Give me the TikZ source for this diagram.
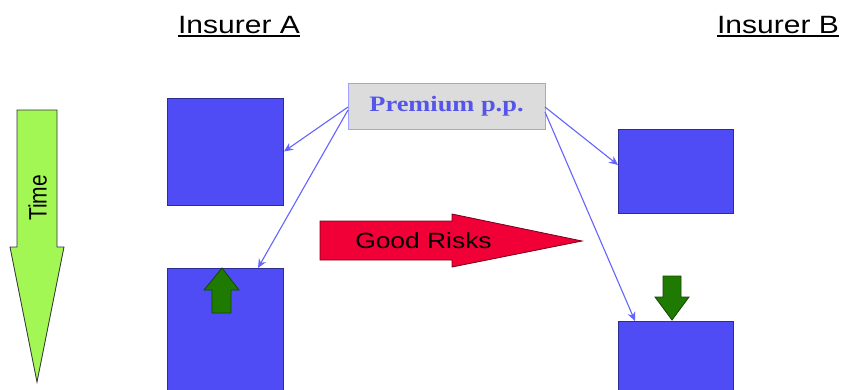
\documentclass[tikz,border=0pt]{standalone}
\usepackage{fontspec}
\setmainfont{Liberation Sans}
\newfontfamily\premfont{Liberation Serif}
\usetikzlibrary{arrows.meta,calc}
\definecolor{boxblue}{RGB}{79,76,245}
\definecolor{boxedge}{RGB}{45,45,150}
\definecolor{premfill}{RGB}{220,220,220}
\definecolor{premedge}{RGB}{160,160,255}
\definecolor{premtext}{RGB}{85,85,235}
\definecolor{connblue}{RGB}{100,100,255}
\definecolor{timegreen}{RGB}{163,247,85}
\definecolor{riskred}{RGB}{240,0,55}
\definecolor{moveg}{RGB}{30,122,0}
\begin{document}
\begin{tikzpicture}[x=1pt,y=-1pt,
  heading/.style={anchor=base,inner sep=0pt,font=\fontsize{25}{30}\selectfont},
  bluebox/.style={draw=boxedge,line width=0.8pt,fill=boxblue,inner sep=0pt,outer sep=0pt},
  premiumbox/.style={draw=premedge,line width=1pt,fill=premfill,inner sep=0pt,outer sep=0pt,
    minimum width=197pt,minimum height=46pt,text=premtext,
    font=\premfont\bfseries\fontsize{22}{26}\selectfont},
  conn/.style={draw=connblue,line width=1.1pt,-{Stealth[length=9pt,width=8pt,inset=3pt]}},
  shapeline/.style={line width=0.8pt,line join=miter}]
\useasboundingbox (0,0) rectangle (841,389);
\fill[white] (0,0) rectangle (841,389);

% column headings
\node[heading] (insA) at (239,33) {\scalebox{1.2}[1]{Insurer A}};
\node[heading] (insB) at (778,33) {\scalebox{1.2}[1]{Insurer B}};
\draw[line width=1.2pt] ($(insA.base west)+(0,3)$) -- ($(insA.base east)+(0,3)$);
\draw[line width=1.2pt] ($(insB.base west)+(0,3)$) -- ($(insB.base east)+(0,3)$);

% time axis
\draw[shapeline,fill=timegreen,draw=black!80] (17,110) -- (57,110) -- (57,247) -- (64,247)
  -- (37,382) -- (10,247) -- (17,247) -- cycle;
\node[rotate=90,inner sep=0pt,font=\fontsize{21}{25}\selectfont] (time) at (37.5,198) {\scalebox{1}[1.2]{Time}};

% insurer portfolios
\node[bluebox,minimum width=116pt,minimum height=107pt] (a1) at (225,151.5) {};
\node[bluebox,minimum width=116pt,minimum height=124pt] (a2) at (225,330) {};
\node[bluebox,minimum width=115pt,minimum height=84pt] (b1) at (675.5,171) {};
\node[bluebox,minimum width=115pt,minimum height=71pt] (b2) at (675.5,356.5) {};

% premium
\node[premiumbox] (prem) at (446.5,106) {\scalebox{1.2}[1]{Premium p.p.}};
\draw[conn] ($(prem.west)+(0,1)$) -- ($(a1.east)+(1,0)$);
\draw[conn] ($(prem.west)+(0,4)$) -- ($(a2.north east)+(-25,0)$);
\draw[conn] ($(prem.east)+(0,1)$) -- ($(b1.west)+(0,-6)$);
\draw[conn] ($(prem.east)+(0,6)$) -- ($(b2.north west)+(17,0)$);

% movement of good risks
\draw[shapeline,fill=riskred,draw=riskred!50!black] (320,221) -- (452,221) -- (452,214)
  -- (582,241) -- (452,267) -- (452,260) -- (320,260) -- cycle;
\node[inner sep=0pt,font=\fontsize{22}{26}\selectfont] (good) at (423.5,241) {\scalebox{1.2}[1]{Good Risks}};

% portfolio change markers
\draw[shapeline,fill=moveg,draw=moveg!60!black] (222,268) -- (239,290) -- (231,290) -- (231,313)
  -- (212,313) -- (212,290) -- (204,290) -- cycle;
\draw[shapeline,fill=moveg,draw=moveg!60!black] (672,320) -- (689,297) -- (681,297) -- (681,276)
  -- (663,276) -- (663,297) -- (655,297) -- cycle;
\end{tikzpicture}
\end{document}
